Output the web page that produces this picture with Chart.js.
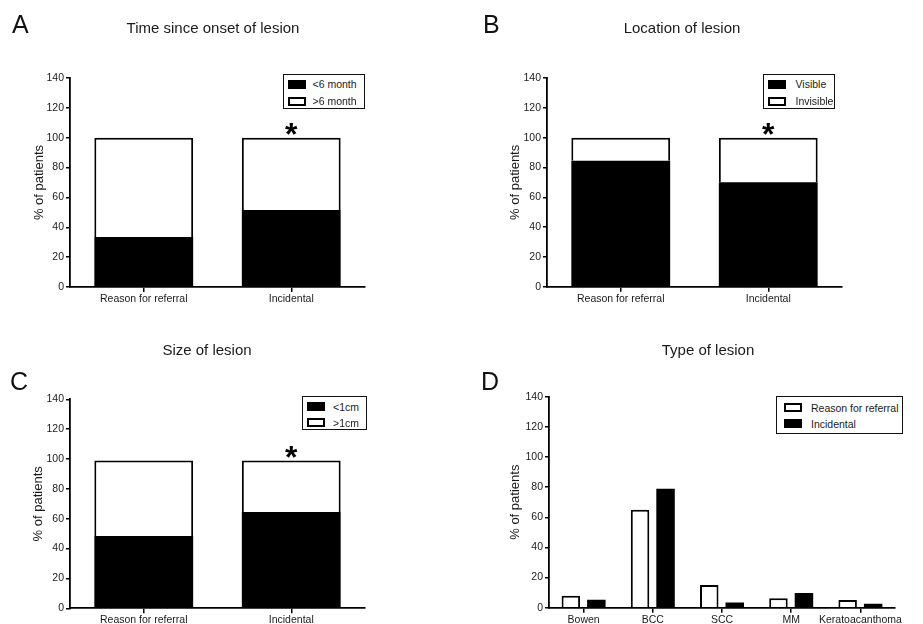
<!DOCTYPE html>
<html>
<head>
<meta charset="utf-8">
<script src="https://cdn.jsdelivr.net/npm/chart.js@4.4.0/dist/chart.umd.min.js"></script>
<style>
  body { margin: 0; background: #fff; font-family: "Liberation Sans", Arial, sans-serif; color: #1a1a1a; }
  #page { position: relative; width: 923px; height: 624px; overflow: hidden; }
  .panel { position: absolute; height: 312px; }
  .panel canvas { position: absolute; left: 0; top: 0; }
  .letter { position: absolute; font-size: 25px; line-height: 1; color: #111; }
  .title { position: absolute; font-size: 15px; line-height: 1; white-space: nowrap; transform: translateX(-50%); }
  .legend { position: absolute; border: 1.5px solid #111; box-sizing: border-box; background: #fff; }
  .legend .row { position: relative; white-space: nowrap; }
  .legend .sw { position: absolute; border: 2px solid #000; box-sizing: border-box; }
  .legend .lbl { position: absolute; }
</style>
</head>
<body>
<div id="page">
  <div class="panel" id="pA" style="left:0;top:0;width:461px">
    <canvas id="cA" width="461" height="312"></canvas>
    <div class="letter" style="left:12px;top:12px">A</div>
    <div class="title" style="left:213px;top:20px">Time since onset of lesion</div>
  </div>
  <div class="panel" id="pB" style="left:461px;top:0;width:462px">
    <canvas id="cB" width="462" height="312"></canvas>
    <div class="letter" style="left:22px;top:12px">B</div>
    <div class="title" style="left:221px;top:20px">Location of lesion</div>
  </div>
  <div class="panel" id="pC" style="left:0;top:312px;width:461px">
    <canvas id="cC" width="461" height="312"></canvas>
    <div class="letter" style="left:10px;top:57px">C</div>
    <div class="title" style="left:207px;top:30px">Size of lesion</div>
  </div>
  <div class="panel" id="pD" style="left:461px;top:312px;width:462px">
    <canvas id="cD" width="462" height="312"></canvas>
    <div class="letter" style="left:20px;top:57px">D</div>
    <div class="title" style="left:247px;top:30px">Type of lesion</div>
  </div>
</div>

<script>
// data (% of patients)
var groups = ['Reason for referral', 'Incidental'];

var onsetNames = ['<6 month', '>6 month'];
var onsetUnder6 = [33.5, 51.5];
var onsetOver6 = [66.5, 48.5];

var locationNames = ['Visible', 'Invisible'];
var locVisible = [84.5, 70];
var locInvisible = [15.5, 30];

var sizeNames = ['<1cm', '>1cm'];
var sizeUnder1 = [48.5, 64.5];
var sizeOver1 = [50.5, 34.5];

var lesionTypes = ['Bowen', 'BCC', 'SCC', 'MM', 'Keratoacanthoma'];
var typeReferral = [8, 65, 15, 6.2, 5.1];
var typeIncidental = [5.3, 79, 3.5, 9.7, 2.7];

var yTickMin = 0, yTickMax = 140, yTickStep = 20;

var FONT = '"Liberation Sans", Arial, sans-serif';
var INK = '#1a1a1a';

// draws the significance star above one bar
var starPlugin = {
  id: 'star',
  afterDatasetsDraw: function (chart, args, opts) {
    if (opts.index === undefined || opts.index === null) return;
    var x = chart.scales.x.getPixelForValue(opts.index);
    var y = chart.scales.y.getPixelForValue(opts.value);
    var ctx = chart.ctx;
    ctx.save();
    ctx.font = 'bold 32px ' + FONT;
    ctx.fillStyle = '#000';
    ctx.textAlign = 'center';
    ctx.textBaseline = 'alphabetic';
    ctx.fillText('*', x, y + 7);
    ctx.restore();
  }
};

function scales(lo, stacked) {
  return {
    x: {
      stacked: stacked,
      offset: true,
      grid: { drawOnChartArea: false, offset: false, tickLength: 5, color: '#000', lineWidth: 1.5 },
      border: { color: '#000', width: 1.8 },
      ticks: { color: INK, font: { family: FONT, size: 10.5 }, padding: 1, maxRotation: 0, autoSkip: false },
      afterFit: function (s) { s.height = lo.xh; }
    },
    y: {
      stacked: stacked,
      min: yTickMin,
      max: yTickMax,
      grid: { drawOnChartArea: false, tickLength: 4, color: '#000', lineWidth: 1.5 },
      border: { color: '#000', width: 1.8 },
      ticks: { stepSize: yTickStep, color: INK, font: { family: FONT, size: 10.5 }, padding: 2 },
      title: { display: true, text: '% of patients', color: INK, font: { family: FONT, size: 13 } },
      afterFit: function (s) { s.width = lo.yw; }
    }
  };
}

function makeLegend(panelId, chart, box) {
  var el = document.createElement('div');
  el.className = 'legend';
  el.style.left = box.left + 'px';
  el.style.top = box.top + 'px';
  el.style.width = box.width + 'px';
  el.style.height = box.height + 'px';
  el.style.fontSize = box.font + 'px';
  chart.data.datasets.forEach(function (ds, i) {
    var row = document.createElement('div');
    row.className = 'row';
    row.style.height = box.rowH + 'px';
    if (i === 0) row.style.marginTop = box.padTop + 'px';
    var sw = document.createElement('span');
    sw.className = 'sw';
    sw.style.left = box.swLeft + 'px';
    sw.style.top = ((box.rowH - 9) / 2) + 'px';
    sw.style.width = '18px';
    sw.style.height = '9px';
    sw.style.background = ds.backgroundColor;
    var lbl = document.createElement('span');
    lbl.className = 'lbl';
    lbl.style.left = box.txtLeft + 'px';
    lbl.style.lineHeight = box.rowH + 'px';
    lbl.textContent = ds.label;
    row.appendChild(sw);
    row.appendChild(lbl);
    el.appendChild(row);
  });
  document.getElementById(panelId).appendChild(el);
}

function stackedPanel(canvasId, lo, names, lower, upper, star) {
  return new Chart(document.getElementById(canvasId), {
    type: 'bar',
    data: {
      labels: groups,
      datasets: [
        { label: names[0], data: lower, backgroundColor: '#000', borderColor: '#000', borderWidth: 0,
          categoryPercentage: 1, barPercentage: 0.67 },
        { label: names[1], data: upper, backgroundColor: '#fff', borderColor: '#000', borderWidth: 2,
          categoryPercentage: 1, barPercentage: 0.67 }
      ]
    },
    options: {
      responsive: false,
      animation: false,
      layout: { padding: lo.pad },
      plugins: { legend: { display: false }, tooltip: { enabled: false }, star: star },
      scales: scales(lo, true)
    },
    plugins: [starPlugin]
  });
}

var chartA = stackedPanel('cA', { pad: { left: 27.5, right: 96, top: 78, bottom: 0 }, yw: 42.5, xh: 25 },
  onsetNames, onsetUnder6, onsetOver6, { index: 1, value: 100 });
var chartB = stackedPanel('cB', { pad: { left: 42.2, right: 81, top: 78, bottom: 0 }, yw: 43.8, xh: 25.3 },
  locationNames, locVisible, locInvisible, { index: 1, value: 100 });
var chartC = stackedPanel('cC', { pad: { left: 27, right: 96, top: 87.3, bottom: 0 }, yw: 43, xh: 15.7 },
  sizeNames, sizeUnder1, sizeOver1, { index: 1, value: 99 });

var loD = { pad: { left: 42.2, right: 28, top: 84.7, bottom: 0 }, yw: 45.8, xh: 16.3 };
var chartD = new Chart(document.getElementById('cD'), {
  type: 'bar',
  data: {
    labels: lesionTypes,
    datasets: [
      { label: 'Reason for referral', data: typeReferral, backgroundColor: '#fff', borderColor: '#000', borderWidth: 2,
        categoryPercentage: 0.737, barPercentage: 0.725 },
      { label: 'Incidental', data: typeIncidental, backgroundColor: '#000', borderColor: '#000', borderWidth: 0,
        categoryPercentage: 0.737, barPercentage: 0.725 }
    ]
  },
  options: {
    responsive: false,
    animation: false,
    layout: { padding: loD.pad },
    plugins: { legend: { display: false }, tooltip: { enabled: false } },
    scales: scales(loD, false)
  }
});

makeLegend('pA', chartA, { left: 283, top: 74, width: 82, height: 35, font: 10.5, rowH: 17, padTop: 0.5, swLeft: 4, txtLeft: 28.5 });
makeLegend('pB', chartB, { left: 302, top: 74, width: 72, height: 35, font: 10.5, rowH: 17, padTop: 0.5, swLeft: 4, txtLeft: 31.5 });
makeLegend('pC', chartC, { left: 302, top: 84, width: 65, height: 34, font: 10.5, rowH: 16, padTop: 1.5, swLeft: 4, txtLeft: 30 });
makeLegend('pD', chartD, { left: 315, top: 84, width: 127, height: 38, font: 10.5, rowH: 16.3, padTop: 2.5, swLeft: 7, txtLeft: 34 });
</script>
</body>
</html>
